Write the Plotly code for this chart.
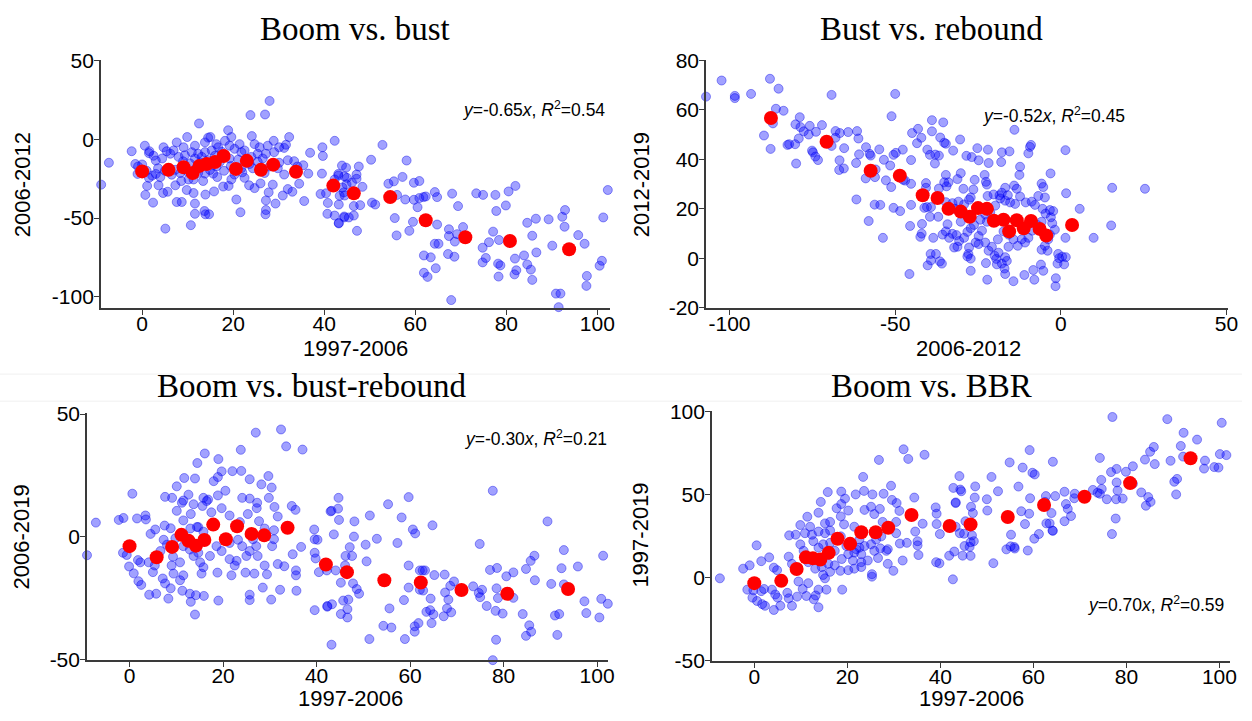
import plotly.graph_objects as go

W, H = 1252, 721

# ---------------- Data ----------------
# Panel 1: Boom (1997-2006) vs bust (2006-2012)
boom_bust_pts = [
    (28.0,24.3),(23.8,15.3),(27.0,15.7),(12.5,10.0),(18.9,5.7),(24.1,2.0),(9.9,1.4),(32.3,1.4),(42.3,-1.0),(39.6,-5.1),
    (-2.3,-7.6),(0.6,-4.1),(1.6,-7.6),(1.5,-8.8),(4.7,-5.1),(7.6,-2.0),(9.1,-5.1),(11.6,-4.1),(13.8,-2.0),(14.5,1.0),
    (15.0,1.4),(16.3,-3.1),(18.2,-1.0),(19.6,1.4),(21.4,-3.1),(22.5,-7.1),(24.7,-3.1),(25.8,-5.1),(27.6,-4.1),(28.9,-1.0),
    (30.1,-5.1),(31.2,-5.5),(31.6,-3.5),(29.0,-8.2),(27.2,-9.2),(25.4,-9.2),(24.0,-11.2),(21.8,-8.2),(20.3,-6.1),(19.2,-4.1),
    (16.7,-5.1),(15.3,-7.1),(13.8,-8.2),(12.3,-9.2),(10.9,-8.2),(9.4,-10.2),(8.0,-11.2),(6.9,-7.1),(6.2,-9.2),(5.4,-7.6),
    (4.4,-12.2),(3.5,-18.4),(2.2,-23.1),(1.5,-24.5),(1.1,-29.6),(0.7,-35.3),(2.4,-40.2),(3.6,-29.2),(4.6,-34.1),(5.6,-33.3),
    (7.3,-29.2),(8.6,-26.5),(9.8,-32.2),(11.3,-34.1),(11.6,-40.8),(13.9,-35.1),(15.8,-33.1),(17.8,-30.0),(19.0,-29.6),(20.7,-38.2),
    (21.6,-46.3),(23.5,-29.2),(24.7,-31.0),(26.0,-28.0),(27.2,-38.8),(27.8,-33.7),(29.3,-40.8),(28.7,-28.8),(30.9,-35.7),(32.0,-31.6),
    (33.0,-33.3),(34.5,-28.2),(35.6,-39.2),(36.5,-21.8),(35.4,-16.5),(33.4,-13.9),(36.9,-8.6),(39.7,-10.6),(39.5,-21.8),(39.2,-34.7),
    (40.4,-34.3),(40.8,-40.4),(42.3,-25.5),(43.1,-22.0),(43.9,-16.7),(44.4,-23.5),(43.4,-35.9),(44.9,-28.6),(44.3,-33.7),(40.7,-47.3),
    (42.3,-48.4),(44.4,-49.6),(43.2,-53.1),(5.1,-56.7),(10.7,-54.5),(11.6,-47.3),(13.9,-47.6),(13.7,-45.5),(14.7,-47.6),(7.6,-39.8),
    (8.7,-39.8),(-7.3,-14.9),(-9.0,-28.8),(-1.5,-15.7),(-0.9,-17.3),(10.2,-25.5),(12.3,-21.4),(13.8,-21.8),(15.6,-21.8),(16.3,-17.3),
    (20.3,-22.4),(22.5,-24.5),(24.3,-18.4),(26.9,-21.4),(28.0,-17.3),(29.8,-18.4),(31.2,-22.4),(30.1,-14.9),(32.0,-13.3),(34.1,-17.3),
    (10.5,-15.3),(11.6,-12.2),(13.1,-11.2),(14.5,-13.3),(17.1,-14.3),(19.2,-12.2),(21.1,-12.9),(23.6,-15.7),(25.4,-14.3),(26.5,-12.2),
    (7.3,-19.4),(9.4,-17.3),(8.4,-21.4),(11.3,-25.5),(13.4,-26.5),(19.6,-25.5),(21.8,-18.4),(27.2,-44.9),(27.1,-47.6),
    (3.0,-22.0),(4.0,-24.0),(5.0,-20.0),(6.5,-22.5),(10.0,-20.5),(12.0,-18.0),(14.9,-19.5),(16.5,-24.0),(18.0,-20.0),(19.5,-17.0),
    (22.0,-21.0),(17.5,-8.0),(16.0,-10.5),(12.8,-14.8),(9.0,-14.0),(2.5,-10.5),(3.0,-13.5),(1.0,-20.0),(0.0,-16.0),(-1.0,-22.0),
    (52.8,-3.6),(50.3,-13.0),(58.1,-13.5),(44.8,-18.0),(47.6,-17.3),(43.1,-23.0),(45.0,-24.5),(47.1,-22.4),(47.1,-25.1),(48.4,-30.2),
    (44.0,-30.6),(46.1,-27.5),(44.5,-35.7),(46.5,-42.4),(47.9,-41.8),(43.2,-41.4),(44.4,-49.0),(45.4,-49.6),(46.5,-48.4),(43.2,-53.4),
    (47.2,-58.1),(50.5,-40.2),(51.2,-41.4),(54.1,-28.2),(55.3,-26.7),(57.2,-23.9),(56.0,-35.3),(57.8,-38.2),(59.7,-27.6),(60.9,-26.5),
    (60.5,-43.1),(59.7,-38.4),(60.9,-37.3),(61.8,-36.7),(62.3,-36.3),(55.5,-50.0),(55.9,-61.0),(58.7,-58.1),(59.5,-52.4),(64.3,-33.5),
    (64.8,-36.7),(64.8,-54.1),(64.3,-66.3),(65.1,-66.3),(68.1,-34.5),(69.4,-42.4),(61.9,-73.7),(63.4,-74.9),(61.9,-84.7),(62.7,-87.3),
    (64.5,-81.8),(67.4,-57.1),(67.4,-61.4),(70.5,-55.7),(69.2,-60.2),(68.7,-64.9),(67.2,-72.8),(68.6,-74.5),(67.9,-102.0),(73.4,-34.3),
    (74.9,-35.3),(77.6,-35.3),(80.5,-33.1),(82.0,-29.6),(79.9,-42.0),(77.8,-45.5),(77.1,-58.6),(76.2,-65.3),(74.8,-68.8),(78.4,-63.9),
    (75.5,-75.3),(74.8,-78.1),(78.2,-78.9),(78.7,-80.0),(78.3,-87.1),(81.9,-75.7),(82.2,-83.1),(81.8,-85.7),(83.9,-73.7),(84.6,-79.4),
    (85.4,-82.7),(85.7,-89.2),(86.6,-71.8),(84.6,-53.0),(86.5,-50.4),(85.7,-61.2),(89.3,-50.8),(90.1,-67.5),(92.3,-49.2),(92.8,-55.5),
    (92.9,-44.9),(90.9,-97.9),(91.9,-97.9),(91.5,-106.5),(95.8,-60.8),(97.2,-66.3),(97.7,-86.7),(97.6,-93.0),(100.5,-80.2),(101.0,-77.1),
    (101.3,-49.6),(102.3,-32.2),
]
boom_bins = [0.0, 5.8, 9.1, 11.1, 12.6, 14.2, 16.0, 17.9, 20.6, 23.0, 26.1, 28.8, 33.8, 42.0, 46.5, 54.5, 62.3, 71.0, 80.8, 93.8]
bust_bin_means = [-20.4, -19.4, -17.8, -21.4, -16.9, -15.7, -14.5, -10.6, -18.8, -13.7, -19.4, -16.1, -20.6, -29.4, -34.3, -36.7, -51.4, -62.2, -64.5, -69.8]

# Panel 2: Bust (2006-2012) vs rebound (2012-2019)
bust_rebound_pts = [
    (-107.1,65.3),(-102.4,71.8),(-98.4,65.6),(-98.4,64.7),(-93.5,66.4),(-87.8,72.5),(-85.2,68.5),(-69.2,66.0),(-50.0,66.4),(-51.1,57.4),
    (-86.0,60.4),(-83.7,59.6),(-86.9,54.5),(-89.6,49.6),(-87.6,44.2),(-78.8,57.0),(-80.1,54.1),(-78.6,53.0),(-77.6,51.3),(-75.8,53.5),
    (-76.1,50.0),(-73.9,51.1),(-72.1,53.8),(-79.1,48.4),(-80.2,46.1),(-82.5,45.8),(-82.0,46.1),(-79.9,38.3),(-75.1,43.5),(-74.8,42.8),
    (-74.1,41.1),(-73.3,39.7),(-68.0,51.4),(-66.7,50.6),(-68.0,48.7),(-69.2,45.4),(-64.2,51.0),(-61.5,51.4),(-61.1,48.4),(-65.4,44.5),
    (-66.8,39.6),(-65.5,36.3),(-66.9,35.7),(-58.8,44.9),(-60.9,42.0),(-57.7,42.2),(-57.4,41.5),(-61.8,38.5),(-54.8,44.0),(-53.4,39.8),
    (-51.5,37.5),(-49.8,42.6),(-47.7,43.9),(-45.2,39.7),(-50.5,41.8),(-47.6,31.7),(-47.0,31.4),(-55.9,35.9),(-58.9,32.3),(-56.1,32.8),
    (-52.8,31.5),(-51.2,28.8),(-61.7,23.8),(-56.2,21.7),(-58.0,15.1),(-50.5,20.4),(-48.5,19.1),(-45.2,21.6),(-45.5,13.1),(-41.9,13.9),
    (-42.0,10.0),(-42.4,8.7),(-53.7,8.3),(-44.9,50.6),(-43.1,52.3),(-43.4,46.5),(-42.1,48.7),(-40.3,43.9),(-38.9,51.3),(-38.9,55.8),
    (-36.4,48.8),(-35.5,54.9),(-35.2,46.7),(-36.8,41.5),(-38.0,38.3),(-39.5,41.8),(-37.9,41.9),(-45.2,30.1),(-40.7,30.4),(-40.7,28.5),
    (-40.4,20.7),(-39.5,16.8),(-36.8,28.2),(-34.5,29.1),(-34.7,33.7),(-39.2,20.7),(-37.0,16.8),
    (-14.0,51.9),(-9.0,45.8),(-9.3,45.0),(1.4,43.7),(-9.8,42.4),(-15.5,43.2),(-17.8,42.8),(-22.0,43.9),(-21.8,38.5),(-18.0,38.9),
    (-25.2,44.5),(-24.8,39.6),(-26.9,40.9),(-28.5,41.4),(-30.4,48.0),(-32.5,43.5),(-34.7,46.3),(-30.2,34.4),(-31.2,32.0),(-33.9,30.7),
    (-35.2,30.7),(-26.0,31.7),(-23.0,33.7),(-22.6,30.9),(-12.3,37.0),(-12.5,33.7),(-3.1,34.3),(-5.8,30.2),(-5.3,28.8),(-14.1,29.4),
    (-13.3,28.1),(-16.8,28.5),(-17.8,26.5),(-16.0,25.5),(-18.5,25.5),(-20.3,25.8),(-22.1,25.2),(-26.4,27.8),(-29.4,28.1),(-27.2,24.6),
    (-22.3,29.8),(-41.2,20.4),(-54.5,21.6),(-38.5,8.3),(-39.3,1.8),(-37.7,1.8),(-39.2,-0.8),(-40.2,-2.8),(-35.9,-2.1),(-36.5,-1.2),
    (-45.7,-6.3),(-34.7,22.7),(-32.7,22.3),(-30.9,22.9),(-31.9,20.0),(-29.2,21.8),(-27.7,23.7),(-29.7,19.0),(-30.2,14.8),(-34.2,13.8),
    (-35.7,9.6),(-34.7,10.9),(-33.7,8.3),(-32.7,9.9),(-31.5,9.4),(-30.7,7.0),(-32.2,4.4),(-31.2,4.7),(-27.7,4.4),(-27.9,1.8),
    (-27.2,-0.1),(-28.2,0.8),(-25.7,6.4),(-24.8,9.0),(-23.8,11.2),(-22.8,6.4),(-24.8,5.8),(-26.2,13.5),(-27.2,12.2),(-28.2,10.7),
    (-29.2,8.3),(-24.3,15.6),(-22.3,14.8),(-22.8,17.7),(-21.3,18.5),(-19.8,21.3),(-18.3,24.2),(-16.8,23.3),(-15.3,22.6),(-13.8,22.0),
    (-12.3,25.0),(-10.6,22.6),(-8.8,22.9),(-7.8,21.6),(-5.5,20.0),(-4.6,18.1),(-6.8,25.2),(-4.8,24.6),(-3.3,19.5),(-2.3,19.1),
    (-3.0,16.6),(-5.8,14.8),(-7.1,13.5),(-8.6,11.2),(-9.8,8.3),(-10.8,6.4),(-11.8,7.7),(-13.0,5.1),(-14.3,7.7),(-15.8,4.7),
    (-15.8,9.6),(-17.3,10.9),(-19.0,7.7),(-20.8,4.7),(-21.8,3.1),(-20.0,1.1),(-18.8,2.3),(-16.8,0.5),(-16.3,-1.0),(-17.8,-2.1),
    (-17.0,-4.1),(-16.8,-6.3),(-19.5,-0.2),(-19.3,-2.4),(-22.6,-1.9),(-22.2,-8.6),(-27.2,-5.0),(-14.3,-9.2),(-11.0,-6.7),(-8.0,-8.6),
    (-8.3,-4.7),(-6.0,-2.5),(-5.3,-5.0),(-5.8,3.5),(-4.0,3.1),(-3.8,7.7),(-4.8,5.1),(-3.3,9.6),(-1.8,11.6),(-2.6,14.2),
    (-0.8,1.8),(0.4,0.7),(1.5,0.5),(-1.0,-2.1),(-0.5,0.1),(-1.5,-8.0),(-1.6,-11.2),(1.0,-2.4),(1.6,26.3),(1.4,8.3),
    (5.7,20.0),(9.9,8.3),(15.2,13.3),(15.5,28.5),(25.4,28.1),
]
bust_bins = [-87.5, -70.7, -57.4, -48.6, -41.7, -37.2, -33.9, -30.2, -27.5, -25.0, -22.3, -20.2, -17.3, -15.6, -13.3, -11.2, -9.0, -6.4, -4.4, 3.4]
rebound_bin_means = [56.7, 47.1, 35.4, 33.4, 25.5, 24.4, 20.0, 18.9, 16.8, 20.3, 20.0, 15.2, 15.6, 10.9, 15.4, 12.2, 15.1, 11.9, 9.2, 13.5]

# Panel 3: Boom (1997-2006) vs bust-rebound (2006-2019)
boom_bustreb_pts = [
    (28.0,50.7),(32.4,43.7),(27.0,42.4),(33.5,36.8),(37.0,35.5),(23.8,35.4),(16.1,33.9),(19.0,31.6),(14.5,30.0),(22.0,26.7),
    (23.9,26.8),(19.7,26.6),(18.9,24.3),(18.0,22.6),(25.7,23.4),(28.2,21.3),(29.7,24.7),(30.4,20.0),(11.7,23.9),(14.0,23.7),
    (10.1,20.5),(20.5,18.7),(18.9,16.8),(29.8,15.8),(24.1,15.8),(25.7,15.5),(27.3,13.8),(27.2,11.6),(31.0,12.1),(31.7,8.2),
    (34.7,12.5),(35.5,10.9),(0.6,17.5),(7.6,16.2),(9.1,15.8),(11.5,14.7),(12.6,17.1),(11.2,13.8),(13.7,13.2),(15.8,15.8),
    (16.8,15.1),(16.5,14.5),(15.6,12.5),(10.1,10.5),(11.5,6.6),(13.1,9.2),(14.7,3.9),(17.5,9.9),(19.7,11.6),(21.4,8.6),
    (23.6,5.9),(25.3,9.2),(27.7,6.3),(28.9,3.3),(30.9,2.6),(-2.3,6.8),(-1.3,7.6),(1.6,7.4),(3.4,8.6),(3.5,7.0),
    (-7.2,5.7),(-9.1,-7.6),(-1.4,-6.6),(-0.6,-7.5),(-0.1,-12.2),(0.9,-15.0),(1.8,-9.6),(2.3,-10.5),(1.9,-18.2),(2.5,-19.7),
    (4.5,1.1),(5.5,2.9),(7.5,4.5),(8.8,3.4),(5.4,-11.8),(5.0,-14.5),(7.1,-17.1),(7.6,-19.1),(8.8,-21.1),(9.3,-8.2),
    (10.8,-10.5),(9.0,-11.8),(9.4,-15.1),(10.8,-17.8),(11.5,-15.8),(4.2,-23.7),(5.7,-23.3),(8.3,-25.3),(11.3,-22.1),(12.9,-23.3),
    (14.2,-23.9),(15.9,-24.2),(13.1,-26.6),(14.0,-31.8),(7.3,-1.3),(9.8,-0.7),(11.5,-3.9),(12.9,-5.3),(13.7,-7.9),(14.7,-6.6),
    (15.1,-10.5),(15.8,-12.5),(15.4,-15.1),(17.2,-7.9),(18.6,-3.9),(19.7,-5.9),(21.4,-9.2),(22.5,-11.8),(21.8,-15.8),(22.9,-9.9),
    (24.1,-3.9),(25.0,-7.9),(25.7,-5.9),(27.1,-3.9),(27.4,-7.9),(28.9,-11.8),(29.4,-15.4),(26.7,-15.1),(24.8,-14.7),(18.8,-14.7),
    (19.0,-26.1),(25.7,-23.7),(25.7,-25.9),(28.5,-20.8),(30.3,-25.7),(32.2,-21.7),(35.7,-22.1),(31.7,-11.2),(33.1,-12.1),(35.6,-13.8),
    (35.6,-15.8),(34.9,-7.2),(36.7,-4.2),(30.5,-3.9),(28.9,0.0),(30.9,-1.1),(26.4,-1.1),(23.2,-1.3),(21.4,-2.6),(15.8,2.0),
    (14.4,3.9),(13.0,3.3),(8.0,-3.3),(6.6,-5.9),(4.1,-10.5),(39.5,2.9),(39.6,-1.1),(39.6,-6.6),(39.8,-8.9),(40.5,-14.5),
    (42.3,-28.3),(39.6,-30.0),(43.0,10.3),
    (44.7,15.8),(43.2,10.5),(44.6,11.4),(44.8,6.8),(43.7,0.9),(40.2,-1.3),(47.1,-4.3),(48.0,0.0),(48.1,6.2),(47.6,-7.9),
    (46.2,-7.9),(46.1,-11.8),(44.1,-13.8),(42.2,-13.8),(45.2,-18.8),(47.8,-19.1),(48.6,-21.4),(49.1,-23.3),(45.7,-26.1),(46.8,-25.7),
    (42.3,-28.6),(43.3,-27.6),(45.2,-31.6),(46.6,-29.6),(46.6,-33.0),(43.2,-44.1),(51.4,8.6),(50.5,-3.3),(50.7,-10.1),(52.9,-0.9),
    (55.3,13.2),(57.3,-2.6),(58.2,7.8),(55.6,-29.3),(54.3,-36.4),(56.0,-37.1),(51.3,-41.8),(58.7,-25.9),(58.9,-41.8),(59.7,16.1),
    (60.6,2.9),(61.1,1.3),(59.7,-11.8),(59.7,-20.8),(61.0,-36.6),(61.0,-38.8),(61.8,-35.3),(62.1,-13.8),(62.7,-13.8),(63.2,-13.8),
    (62.1,-21.7),(62.8,-22.0),(64.4,-25.3),(63.5,-30.7),(64.3,-30.0),(65.0,-31.7),(64.6,-35.3),(64.8,4.6),(65.2,-15.7),(67.4,-15.5),
    (67.5,-22.8),(68.2,-25.7),(67.2,-32.5),(67.9,-29.3),(68.8,-30.9),(68.6,-20.1),(69.4,-18.3),(74.9,-3.0),(73.5,-20.3),(74.7,-23.0),
    (75.0,-24.7),(75.4,-21.7),(76.4,-28.3),(77.1,-13.6),(77.7,18.7),(78.6,-12.8),(78.5,-21.1),(78.8,-25.1),(78.3,-30.3),(79.8,-31.4),
    (80.6,-16.2),(82.1,-14.6),(82.1,-25.0),(78.4,-42.1),(77.7,-50.4),(84.1,-31.6),(84.8,-13.2),(85.8,-9.9),(86.6,-7.8),(86.7,-17.8),
    (85.5,-36.2),(85.9,-38.8),(84.8,-40.5),(89.4,6.2),(90.2,-19.3),(91.0,-32.2),(91.9,-31.6),(91.5,-40.1),(92.4,-12.9),(92.9,-5.5),
    (92.9,-19.5),(95.9,-12.2),(97.3,-26.4),(97.7,-31.2),(100.5,-33.0),(100.9,-25.4),(101.3,-7.8),(102.3,-27.4),
]
bustreb_bin_means = [-3.9, -8.4, -4.2, 0.7, -1.7, -3.7, -1.4, 4.9, -1.1, 4.2, 1.1, 0.5, 3.6, -11.4, -14.5, -17.8, -18.7, -21.8, -23.3, -21.4]

# Panel 4: Boom (1997-2006) vs BBR (1997-2019)
boom_bbr_pts = [
    (32.1,77.1),(36.6,73.8),(26.8,70.7),(33.1,71.3),(23.4,60.5),(29.4,55.2),(23.6,52.1),(21.8,50.0),(25.4,50.0),(27.8,50.4),
    (18.7,51.7),(15.8,51.4),(19.5,47.5),(18.7,44.2),(17.7,41.7),(14.3,45.5),(13.8,39.0),(11.4,36.6),(9.9,31.6),(15.2,32.6),
    (16.3,33.5),(18.6,36.8),(20.2,40.3),(19.3,32.0),(21.5,30.6),(23.7,40.7),(25.1,42.6),(25.8,38.2),(27.0,41.3),(27.6,33.5),
    (29.6,46.7),(30.6,44.8),(31.2,40.1),(30.5,33.5),(30.5,26.7),(34.4,48.1),(36.2,32.4),(34.6,27.7),(35.1,21.9),(35.1,19.4),
    (35.3,13.6),(32.8,20.9),(31.3,20.5),(31.9,10.3),(29.9,4.1),(28.7,8.3),(28.4,16.1),(26.6,11.8),(25.3,0.6),(25.3,2.1),
    (24.4,10.3),(23.0,6.4),(23.0,14.1),(21.2,10.3),(21.9,17.1),(23.7,19.0),(25.1,20.0),(26.2,22.9),(27.3,24.8),(22.6,22.9),
    (18.8,11.2),(18.5,4.1),(18.9,-7.2),(17.3,7.4),(16.3,3.5),(15.2,-0.4),(15.5,-7.2),(13.8,-7.2),(13.2,-10.7),(13.8,-17.8),
    (12.8,-13.0),(11.2,-11.0),(11.6,-3.3),(10.4,-6.8),(9.5,-2.3),(9.2,-11.4),(8.1,-16.9),(7.4,-12.4),(7.1,-9.1),(5.6,-16.9),
    (4.2,-19.4),(2.3,-16.9),(1.7,-15.9),(0.6,-14.0),(-0.4,-12.0),(-1.5,-7.2),(-0.2,-7.6),(1.5,-8.1),(2.1,-6.8),(3.8,-7.2),
    (4.5,-10.1),(5.0,-12.0),(4.9,4.5),(4.2,6.0),(3.2,12.2),(1.5,9.9),(0.5,19.4),(-1.0,7.4),(-2.4,5.4),(-7.4,-0.4),
    (-9.2,-16.3),(7.5,25.4),(8.9,25.8),(7.4,12.6),(8.1,8.3),(9.9,20.0),(10.9,26.7),(12.0,30.6),(10.6,16.1),(12.7,21.9),
    (13.8,18.0),(14.8,20.0),(16.3,20.9),(11.6,9.3),(13.1,5.4),(14.5,6.4),(15.9,8.3),(14.8,1.6),(17.3,16.1),(19.8,19.0),
    (18.6,24.8),(16.3,28.3),(15.2,26.7),(13.8,27.7),(12.4,25.8),(22.6,18.0),(21.5,15.1),(20.2,14.1),(20.2,4.5),(21.5,5.4),
    (23.0,9.3),(25.8,16.1),(27.1,17.6),(28.7,17.1),(39.0,42.2),(39.2,38.4),(39.2,32.2),(39.1,9.3),(39.9,26.2),(42.7,-1.0),
    (41.9,13.2),(43.0,15.7),(42.8,53.9),(43.3,44.8),(44.1,61.0),(44.3,52.9),(44.8,13.2),(45.2,19.0),(44.2,26.7),(43.3,30.6),
    (46.5,13.1),(46.3,18.5),(46.5,21.3),(54.2,17.0),(55.9,18.4),(56.0,17.5),(58.8,16.3),(51.4,8.7),(39.8,8.6),
    (77.0,96.5),(88.8,95.2),(100.5,93.0),(92.3,87.0),(95.2,82.9),(91.7,79.1),(100.1,74.2),(101.5,73.6),(99.8,66.1),(96.9,70.3),
    (96.7,65.5),(92.2,72.7),(89.5,70.2),(90.9,59.3),(90.3,57.6),(90.7,50.0),(85.9,78.5),(85.1,75.6),(84.0,70.9),(86.1,68.2),
    (81.4,66.9),(79.9,63.6),(77.9,65.3),(76.7,63.4),(74.3,71.9),(74.6,58.7),(72.8,52.7),(74.7,53.3),(73.8,51.0),(75.8,47.1),
    (77.8,47.1),(79.2,47.5),(77.9,57.2),(78.1,52.3),(77.7,35.5),(76.9,26.2),(81.4,56.4),(83.2,51.2),(84.7,48.4),(85.2,45.5),
    (84.2,43.2),(54.9,69.2),(59.2,76.6),(57.7,66.1),(59.8,63.0),(60.3,62.0),(64.2,69.6),(51.0,60.5),(56.8,54.7),(52.4,51.9),
    (50.0,47.1),(50.1,40.3),(47.5,54.8),(44.5,51.9),(47.4,48.1),(46.6,42.6),(47.0,38.8),(43.3,45.2),(45.4,33.9),(45.1,26.4),
    (46.8,25.4),(47.2,21.9),(59.3,47.7),(57.4,39.9),(59.1,38.4),(58.2,32.2),(55.2,25.8),(55.1,18.8),(62.7,49.0),(62.5,45.5),
    (64.7,49.0),(63.9,38.8),(63.5,32.6),(64.1,28.3),(62.8,32.6),(61.2,26.2),(60.2,23.4),(66.7,51.6),(67.0,44.2),(67.4,41.3),
    (68.1,37.0),(66.7,33.9),(68.9,50.4),(68.8,47.7),(74.3,50.4),(64.2,28.1),(98.9,66.4),
]
bbr_bin_means = [-3.3, -1.9, 5.2, 12.2, 11.6, 10.9, 14.9, 23.4, 20.3, 27.3, 27.3, 30.0, 37.6, 31.0, 32.0, 36.4, 43.6, 48.6, 56.8, 71.7]

titles = ["Boom vs. bust", "Bust vs. rebound", "Boom vs. bust-rebound", "Boom vs. BBR"]
x_titles = ["1997-2006", "2006-2012", "1997-2006", "1997-2006"]
y_titles = ["2006-2012", "2012-2019", "2006-2019", "1997-2019"]
fit_labels = [
    "<i>y</i>=-0.65<i>x</i>, <i>R</i><sup>2</sup>=0.54",
    "<i>y</i>=-0.52<i>x</i>, <i>R</i><sup>2</sup>=0.45",
    "<i>y</i>=-0.30<i>x</i>, <i>R</i><sup>2</sup>=0.21",
    "<i>y</i>=0.70<i>x</i>, <i>R</i><sup>2</sup>=0.59",
]

# ---------------- Layout geometry (pixels in the 1252x721 page) ----------------
def fx(px):
    return px / W

def fy(py):
    return 1 - py / H

panels = [
    dict(xd=(101.7, 615.0), yd=(50.0, 305.7), xr=[-9.06, 102.8], yr=[-107.0, 50.0],
         xt=[0, 20, 40, 60, 80, 100], yt=[-100, -50, 0, 50],
         title_xy=(358, 18), xt_xy=(358, 348), yt_xy=(22, 178), fit_xy=(612, 100), fit_anchor="right"),
    dict(xd=(711.7, 1238.0), yd=(49.8, 305.7), xr=[-107.1, 50.5], yr=[-20.0, 80.0],
         xt=[-100, -50, 0, 50], yt=[-20, 0, 20, 40, 60, 80],
         title_xy=(939, 18), xt_xy=(976, 348), yt_xy=(646, 178), fit_xy=(989, 106), fit_anchor="left"),
    dict(xd=(87.7, 612.7), yd=(414.0, 669.5), xr=[-9.1, 102.3], yr=[-50.4, 50.5],
         xt=[0, 20, 40, 60, 80, 100], yt=[-50, 0, 50],
         title_xy=(314, 386), xt_xy=(353, 709), yt_xy=(22, 542), fit_xy=(614, 440), fit_anchor="right"),
    dict(xd=(717.7, 1240.0), yd=(412.3, 670.3), xr=[-9.1, 102.3], yr=[-50.0, 100.0],
         xt=[0, 20, 40, 60, 80, 100], yt=[-50, 0, 50, 100],
         title_xy=(939, 386), xt_xy=(979, 709), yt_xy=(646, 540), fit_xy=(1236, 612), fit_anchor="right"),
]

blue_sets = [boom_bust_pts, bust_rebound_pts, boom_bustreb_pts, boom_bbr_pts]
red_x = [boom_bins, bust_bins, boom_bins, boom_bins]
red_y = [bust_bin_means, rebound_bin_means, bustreb_bin_means, bbr_bin_means]

SANS = "Liberation Sans, Arial, sans-serif"
TICK_FONT = dict(family=SANS, size=21, color="#000000")
AX_COLOR = "#3a3a3a"

fig = go.Figure()
layout = dict(
    width=W, height=H, margin=dict(l=0, r=0, t=0, b=0),
    paper_bgcolor="white", plot_bgcolor="white", showlegend=False,
    annotations=[], shapes=[],
)

for i, p in enumerate(panels):
    n = "" if i == 0 else str(i + 1)
    xa, ya = "x" + n, "y" + n
    pts = blue_sets[i]
    fig.add_trace(go.Scatter(
        x=[a for a, b in pts], y=[b for a, b in pts], mode="markers",
        xaxis=xa, yaxis=ya, hoverinfo="skip", cliponaxis=False,
        marker=dict(size=9, color="rgba(0,0,255,0.37)",
                    line=dict(width=1, color="rgba(0,0,230,0.4)")),
    ))
    fig.add_trace(go.Scatter(
        x=red_x[i], y=red_y[i], mode="markers", xaxis=xa, yaxis=ya,
        hoverinfo="skip", cliponaxis=False,
        marker=dict(size=14, color="#ff0000", line=dict(width=0)),
    ))
    common = dict(showgrid=False, zeroline=False, showline=True, linecolor=AX_COLOR,
                  linewidth=1.6, ticks="outside", ticklen=5, tickwidth=1.4,
                  tickcolor=AX_COLOR, tickfont=TICK_FONT, fixedrange=True)
    layout["xaxis" + n] = dict(common, domain=[fx(p["xd"][0]), fx(p["xd"][1])],
                               range=p["xr"], tickvals=p["xt"],
                               ticktext=[str(v) for v in p["xt"]],
                               ticklabelstandoff=-9, anchor=ya)
    layout["yaxis" + n] = dict(common, domain=[fy(p["yd"][1]), fy(p["yd"][0])],
                               range=p["yr"], tickvals=p["yt"],
                               ticktext=[str(v) for v in p["yt"]],
                               ticklabelstandoff=-4, anchor=xa)
    tx, ty = p["title_xy"]
    layout["annotations"].append(dict(
        text=titles[i], x=fx(tx), y=fy(ty), xref="paper", yref="paper",
        xanchor="center", yanchor="middle", showarrow=False,
        font=dict(family="Liberation Serif, Times New Roman, serif", size=33, color="#000000")))
    ax_, ay_ = p["xt_xy"]
    layout["annotations"].append(dict(
        text=x_titles[i], x=fx(ax_), y=fy(ay_), xref="paper", yref="paper",
        xanchor="center", yanchor="middle", showarrow=False,
        font=dict(family=SANS, size=22, color="#000000")))
    bx, by = p["yt_xy"]
    layout["annotations"].append(dict(
        text=y_titles[i], x=fx(bx), y=fy(by), xref="paper", yref="paper",
        xanchor="center", yanchor="middle", showarrow=False, textangle=-90,
        font=dict(family=SANS, size=22, color="#000000")))
    cx, cy = p["fit_xy"]
    layout["annotations"].append(dict(
        text=fit_labels[i], x=fx(cx), y=fy(cy), xref="paper", yref="paper",
        xanchor=p["fit_anchor"], yanchor="middle", showarrow=False,
        font=dict(family=SANS, size=17.5, color="#000000")))

# faint separator lines between the stitched rows
for yy in (374, 402):
    layout["shapes"].append(dict(type="line", xref="paper", yref="paper",
                                 x0=0, x1=1, y0=fy(yy), y1=fy(yy),
                                 line=dict(color="#f0f0f0", width=1), layer="below"))

fig.update_layout(**layout)
fig.write_html("out.html")
